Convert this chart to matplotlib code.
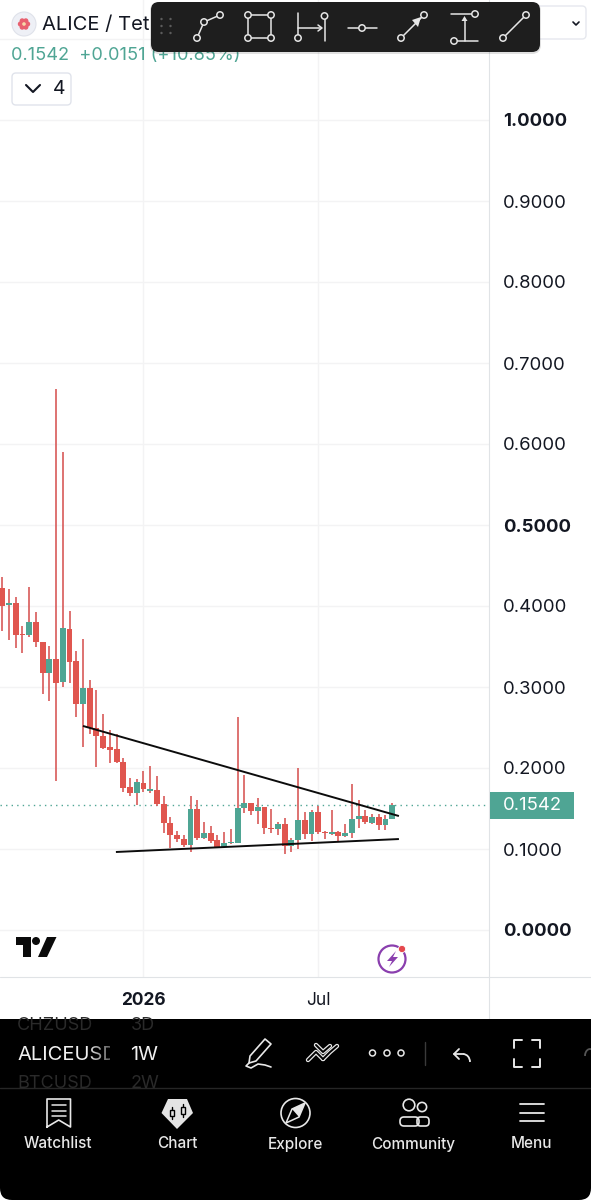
import numpy as np
import matplotlib
matplotlib.use("Agg")
import matplotlib.pyplot as plt
from matplotlib.patches import Circle, Rectangle, FancyBboxPatch, Polygon, Arc

plt.rcParams["font.family"] = ["Inter", "DejaVu Sans"]

# weekly candles ALICE/USDT
open_px = [.4218, .4008, .4041, .3654, .3638, .3807, .3560, .3177, .3342, .3062, .3720, .3321, .2790, .2984, .2498,
           .2399, .2264, .2239, .2078, .1770, .1696, .1819, .1720, .1728, .1556, .1321, .1177, .1119, .1053, .1498,
           .1140, .1202, .1111, .1029, .1074, .1074, .1506, .1572, .1465, .1514, .1259, .1251, .1309, .1037, .1111,
           .1358, .1185, .1457, .1214, .1189, .1214, .1160, .1202, .1375, .1407, .1325, .1395, .1296, .1370]
close_px = [.4000, .4041, .3642, .3638, .3807, .3560, .3177, .3350, .3054, .3728, .3313, .2790, .2984, .2490, .2399,
            .2243, .2222, .2074, .1753, .1696, .1827, .1741, .1737, .1556, .1325, .1177, .1128, .1045, .1498, .1132,
            .1198, .1099, .1025, .1078, .1082, .1506, .1568, .1473, .1514, .1259, .1251, .1305, .1041, .1111, .1358,
            .1185, .1457, .1206, .1202, .1214, .1160, .1202, .1375, .1412, .1329, .1395, .1296, .1366, .1542]
high_px = [.4354, .4210, .4115, .3757, .4230, .3922, .3560, .3510, .6675, .5901, .3942, .3449, .3588, .3086, .2963,
           .2667, .2469, .2420, .2128, .1881, .1864, .1967, .2029, .1901, .1654, .1391, .1226, .1177, .1658, .1605,
           .1338, .1284, .1177, .1210, .1251, .2634, .1918, .1572, .1634, .1519, .1494, .1338, .1383, .1132, .2004,
           .1457, .1481, .1531, .1226, .1481, .1226, .1309, .1798, .1601, .1481, .1428, .1432, .1420, .1564]
low_px = [.3695, .3580, .3486, .3416, .3613, .3490, .2910, .2831, .1840, .3004, .3045, .2626, .2255, .2416, .2017,
          .2231, .2058, .2058, .1700, .1659, .1543, .1700, .1687, .1531, .1193, .1016, .1091, .1029, .0967, .1111,
          .1128, .1078, .1017, .1025, .1062, .1070, .1440, .1420, .1305, .1185, .1202, .1169, .0934, .0967, .0996,
          .1128, .1099, .1185, .1128, .1173, .1099, .1144, .1132, .1259, .1305, .1309, .1230, .1230, .1370]

price_ticks = [0.0, 0.1, 0.2, 0.3, 0.4, 0.5, 0.6, 0.7, 0.8, 0.9, 1.0, 1.1]
price_labels = ["0.0000", "0.1000", "0.2000", "0.3000", "0.4000", "0.5000", "0.6000", "0.7000", "0.8000", "0.9000", "1.0000", ""]
bold_labels = ["0.0000", "0.5000", "1.0000"]
time_ticks = [21, 47]
time_labels = ["2026", "Jul"]
last_price = 0.1542
resistance_x, resistance_y = [12.0, 59.0], [0.2519, 0.1407]
support_x, support_y = [16.9, 59.0], [0.0963, 0.1123]

UP, DOWN, WICK = "#4fa594", "#e0564f", "#d9605f"
INK = "#131722"
W, H = 591, 1200

fig = plt.figure(figsize=(W / 100, H / 100), dpi=100, facecolor="white")

# chart pane, pixel edges 0..489 and 0..977
ax = fig.add_axes([0, 1 - 977 / H, 489 / W, 977 / H])
ax.set_xlim(-0.342, 72.4)
ax.set_ylim((930 - 977) / 810, 930 / 810)
ax.set_axisbelow(True)
ax.grid(True, color="#f3f3f4", lw=1)
for s in ["top", "left", "right", "bottom"]:
    ax.spines[s].set_visible(False)

ax.yaxis.tick_right()
ax.set_yticks(price_ticks)
ax.set_yticklabels(price_labels)
ax.tick_params(axis="y", length=0, pad=10, labelsize=13.3, labelcolor=INK)
for t in ax.get_yticklabels():
    if t.get_text() in bold_labels:
        t.set_fontweight("bold")
ax.set_xticks(time_ticks)
ax.set_xticklabels(time_labels)
ax.tick_params(axis="x", length=0, pad=10.5, labelsize=12.5, labelcolor=INK)
ax.get_xticklabels()[0].set_fontweight("bold")

x = np.arange(len(open_px))
o, c, h, l = map(np.array, (open_px, close_px, high_px, low_px))
cols = np.where(c >= o, UP, DOWN)
# wicks are red on every candle in this chart
ax.vlines(x, l, h, colors=WICK, lw=1.25, zorder=2)
ax.bar(x, np.maximum(np.abs(c - o), 0.0012), bottom=np.minimum(o, c), width=0.88, color=cols, zorder=3)

ax.axhline(last_price, color=UP, lw=1, ls=(0, (1, 3)), zorder=1)
ax.plot(resistance_x, resistance_y, color="#0c0c0c", lw=1.4, zorder=4, solid_capstyle="butt")
ax.plot(support_x, support_y, color="#0c0c0c", lw=1.4, zorder=4, solid_capstyle="butt")

# everything around the chart lives on an overlay in pixel coords
ui = fig.add_axes([0, 0, 1, 1], facecolor="none")
ui.set_xlim(0, W)
ui.set_ylim(H, 0)
ui.axis("off")


def ring(cx, cy, r=3.2, ec="#e6e6e6", fc="#1e1e1e", lw=1.1, z=12):
    ui.add_patch(Circle((cx, cy), r, ec=ec, fc=fc, lw=lw, zorder=z))


def line(xs, ys, col="#e6e6e6", lw=1.1, z=11):
    ui.plot(xs, ys, color=col, lw=lw, zorder=z, solid_capstyle="round", solid_joinstyle="round")


def rbox(x0, y0, w, h, r, fc, ec="none", lw=1, z=5):
    ui.add_patch(FancyBboxPatch((x0 + r, y0 + r), w - 2 * r, h - 2 * r, boxstyle=f"round,pad={r}",
                                fc=fc, ec=ec, lw=lw, zorder=z))


# pane separators
line([489, 489], [0, 1019], "#e0e3e6", 0.8, 2)
line([0, W], [977, 977], "#e0e3e6", 0.8, 2)

# last price tag
ui.add_patch(Rectangle((490, 792), 84, 27, fc=UP, ec="none", zorder=5))
ui.text(532, 805.5, "0.1542", color="white", fontsize=13.3, ha="center", va="center", zorder=6)

# header
ui.add_patch(Circle((24, 24), 12, fc="#eef0f6", ec="#dfe2ea", lw=0.8, zorder=5))
for a in np.arange(0, 360, 60):
    ui.add_patch(Circle((24 + 3.6 * np.cos(np.radians(a)), 24 + 3.6 * np.sin(np.radians(a))), 2.6, fc="#e8606f", ec="none", zorder=6))
ui.add_patch(Circle((24, 24), 1.8, fc="#f7d9a8", ec="none", zorder=7))
ui.text(42, 25, "ALICE / Tet", color=INK, fontsize=14.5, va="center", ha="left", zorder=6)
ui.text(11, 55, "0.1542  +0.0151 (+10.85%)", color=UP, fontsize=13.1, va="center", ha="left", zorder=6)
rbox(12, 73, 59, 32, 4, "white", "#e0e3eb")
line([26, 33, 40], [85, 92, 85], INK, 1.5, 6)
ui.text(59, 89, "4", color=INK, fontsize=14, ha="center", va="center", zorder=6)
rbox(530, 6, 56, 33, 4, "white", "#e6e8ee")
line([573, 576, 579], [22, 25, 22], INK, 1.2, 6)

# drawing toolbar
rbox(150, 2, 391, 52, 9, (0, 0, 0, 0.12), z=9)
rbox(151, 2, 389, 50, 8, "#1e1e1e", z=10)
for dx in [161.5, 170.5]:
    for dy in [19, 26, 33]:
        ui.add_patch(Circle((dx, dy), 1.2, fc="#5c5c5c", ec="none", zorder=11))
line([197, 204, 220], [38, 22, 15])
for p in [(197, 38), (204, 22), (220, 15)]:
    ring(*p)
ui.add_patch(Rectangle((248, 15), 23, 23, fc="none", ec="#e6e6e6", lw=1.1, zorder=11))
for p in [(248, 15), (271, 15), (248, 38), (271, 38)]:
    ring(*p)
line([298, 298], [13, 38])
line([324.5, 324.5], [16, 41])
line([298, 321], [28, 28])
line([318, 322, 318], [25, 28, 31])
ring(298, 38)
ring(324.5, 16)
line([348, 377], [28, 28])
ring(362, 28)
line([401, 424], [38, 15])
ui.add_patch(Polygon([(421, 17), (412, 20), (418, 27)], fc="#e6e6e6", ec="none", zorder=11))
ring(401, 38)
ring(424, 15)
line([451, 474], [14, 14])
line([457, 478], [41, 41])
line([464.5, 464.5], [41, 19])
ui.add_patch(Polygon([(464.5, 16), (461.5, 21), (467.5, 21)], fc="#e6e6e6", ec="none", zorder=11))
ring(475, 14)
ring(454, 41)
line([503, 526], [38, 15])
ring(503, 38)
ring(526, 15)

# logo + lightning badge
ui.add_patch(Polygon([(16, 937), (31, 937), (31, 957), (23, 957), (23, 945), (16, 945)], fc="#0b0b0b", ec="none", zorder=5))
ui.add_patch(Circle((36, 941), 4, fc="#0b0b0b", ec="none", zorder=5))
ui.add_patch(Polygon([(47, 937), (56.5, 937), (47, 957), (38, 957)], fc="#0b0b0b", ec="none", zorder=5))
ui.add_patch(Circle((392, 959), 13.5, fc="white", ec="#8a3fae", lw=1.6, zorder=5))
ui.add_patch(Polygon([(396, 951), (387, 961), (392, 961), (389, 967), (398, 957), (393, 957)], fc="#8a3fae", ec="none", zorder=6))
ui.add_patch(Circle((402, 949), 3.6, fc="#e5484d", ec="white", lw=0.6, zorder=7))

# black bottom panel with rounded lower corners
ui.add_patch(Rectangle((0, 1019), W, 150, fc="black", ec="none", zorder=8))
rbox(0, 1100, W, 100, 12, "black", z=8)
line([0, W], [1088, 1088], "#262626", 1, 9)
ui.text(17, 1025.5, "CHZUSD", color="#2a2a2a", fontsize=13, va="center", zorder=9)
ui.text(17, 1083, "BTCUSD", color="#2a2a2a", fontsize=13, va="center", zorder=9)
ui.text(17, 1055, "ALICEUSD", color="#f0f0f0", fontsize=14.5, va="center", zorder=9)
# fade the symbol names out before the interval column
fade = np.zeros((1, 40, 4))
fade[0, :, 3] = np.linspace(0, 1, 40)
fade[0, 24:, 3] = 1
ui.imshow(fade, extent=(86, 126, 1087, 1020), aspect="auto", zorder=10)
ui.set_xlim(0, W)
ui.set_ylim(H, 0)
ui.text(131, 1025.5, "3D", color="#2a2a2a", fontsize=13, va="center", zorder=11)
ui.text(131, 1083, "2W", color="#2a2a2a", fontsize=13, va="center", zorder=11)
ui.text(130, 1055, "1W", color="#f0f0f0", fontsize=14.5, va="center", zorder=11)

WH = "#e8e8e8"
# pen
ui.add_patch(Polygon([(265, 1039), (271, 1044), (256, 1061), (249, 1063), (250, 1056)], fc="none", ec=WH, lw=1.2, joinstyle="round", zorder=11))
line([249, 246, 251, 258, 265, 271], [1063, 1066, 1068, 1064, 1065, 1067], WH, 1.2, 11)
# chevrons
for xs, ys in [([308, 316, 323], [1060, 1052, 1059]), ([323, 330, 337], [1059, 1052, 1046]), ([316, 323, 330], [1045, 1052, 1046])]:
    line(xs, ys, WH, 3.2, 11)
    line(xs, ys, "black", 1.4, 12)
for dx in [372.5, 387, 401]:
    ui.add_patch(Circle((dx, 1053), 3, fc="black", ec=WH, lw=1.1, zorder=11))
line([425, 425], [1042, 1065], "#3a3a3a", 1, 11)
# undo
line([459, 454, 459], [1049, 1054, 1059], WH, 1.3, 11)
line([454, 463], [1054, 1054], WH, 1.3, 11)
ui.add_patch(Arc((463, 1062), 14, 16, theta1=270, theta2=360, ec=WH, lw=1.3, zorder=11))
# fullscreen corners
for bx, by, sx, sy in [(514, 1040, 1, 1), (540, 1040, -1, 1), (514, 1067, 1, -1), (540, 1067, -1, -1)]:
    line([bx + 8 * sx, bx, bx], [by, by, by + 8 * sy], WH, 1.4, 11)
ui.add_patch(Arc((590, 1056), 10, 14, theta1=180, theta2=290, ec="#555555", lw=1.3, zorder=11))

# tab bar
tab_x = [58, 177, 295, 413, 531]
tab_names = ["Watchlist", "Chart", "Explore", "Community", "Menu"]
for tx, name in zip(tab_x, tab_names):
    ui.text(tx, 1144, name, color=WH, fontsize=11, ha="center", va="center", fontweight="medium", zorder=11)
ui.plot([47, 47, 70.5, 70.5, 58.7, 47], [1127, 1099, 1099, 1127, 1120, 1127], color=WH, lw=1.2, zorder=11)
for ly in [1105, 1110.5, 1116]:
    line([52, 65.5], [ly, ly], WH, 1.1, 11)
ui.add_patch(Polygon([(168, 1099), (187, 1099), (193, 1113), (177, 1129), (161.5, 1113)], fc="#e4e4e4", ec="none", zorder=11))
for cx, top, bot in [(172, 1107, 1119), (183, 1104, 1117)]:
    line([cx, cx], [top, bot], "black", 1, 12)
    ui.add_patch(Rectangle((cx - 2, top + 3), 4, bot - top - 6, fc="#e4e4e4", ec="black", lw=1, zorder=13))
ui.add_patch(Circle((295.5, 1113), 14.5, fc="none", ec=WH, lw=1.2, zorder=11))
ui.add_patch(Polygon([(305, 1103), (299, 1117), (286, 1123), (292, 1109)], fc="none", ec=WH, lw=1.1, zorder=11))
ui.add_patch(Polygon([(305, 1103), (299, 1117), (292, 1109)], fc=WH, ec="none", zorder=11))
ui.add_patch(Circle((409, 1105), 5.8, fc="none", ec=WH, lw=1.2, zorder=11))
ui.add_patch(Circle((422, 1107), 4.6, fc="none", ec=WH, lw=1.2, zorder=11))
rbox(400, 1117, 19, 9, 4, "none", WH, 1.2, 11)
rbox(417, 1117, 12, 9, 3.5, "none", WH, 1.2, 11)
for ly in [1104, 1113, 1121]:
    line([520, 544], [ly, ly], WH, 1.3, 11)

fig.savefig("out.png", dpi=100, facecolor="white")
